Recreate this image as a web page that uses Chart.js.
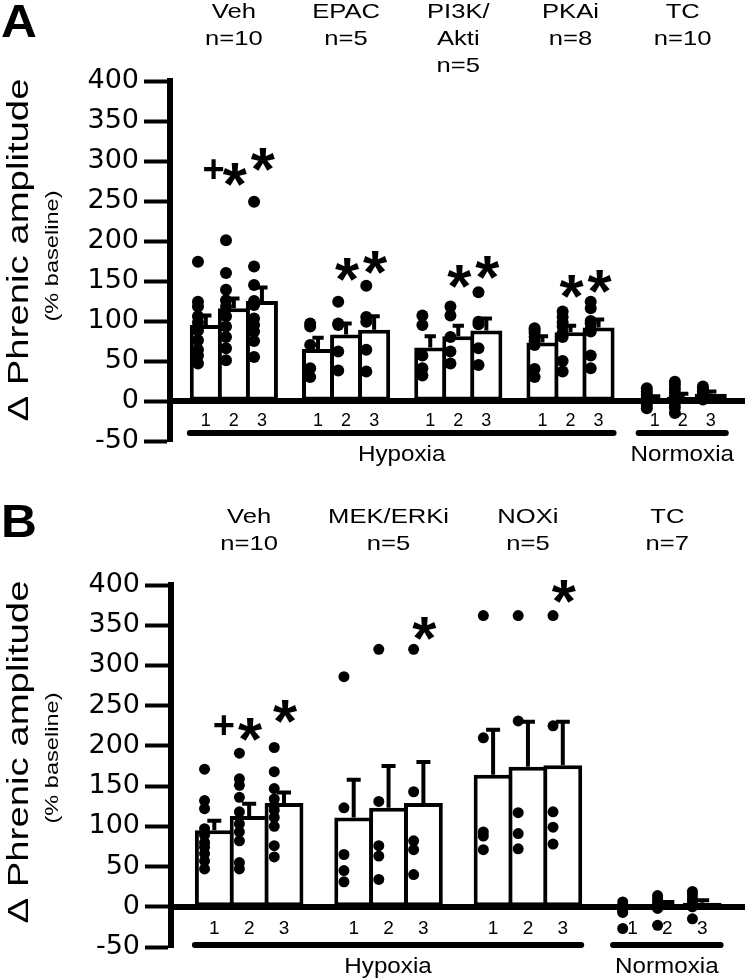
<!DOCTYPE html>
<html lang="en">
<head>
<meta charset="UTF-8">
<title>Phrenic amplitude - hypoxia / normoxia</title>
<script src="https://cdn.jsdelivr.net/npm/chart.js"></script>
<style>
  body { margin: 0; background: #fff; }
  .panel { position: absolute; left: 0; width: 750px; }
  #panelA { top: 0; height: 470px; }
  #panelB { top: 470px; height: 509px; }
</style>
</head>
<body>
<div class="panel" id="panelA"><canvas id="chartA"></canvas></div>
<div class="panel" id="panelB"><canvas id="chartB"></canvas></div>

<script>
// values, % baseline
const timePoints = ['1', '2', '3'];
const conditionNames = ['Hypoxia', 'Normoxia'];

// panel A
const groupsA = [['Veh'], ['EPAC'], ['PI3K/', 'Akti'], ['PKAi'], ['TC']];
const nA = [10, 5, 5, 8, 10];
const conditionGroupsA = [[0, 3], [4, 4]];
const meanA = [[95, 116, 125], [65, 83, 89], [67, 81, 88], [73, 86, 92], [3, 5, 9]];
const semA = [[12, 12, 17], [14, 14, 17], [14, 13, 15], [8, 8, 10], [3, 4, 3]];
const dotsA = [
  [[174, 124, 118, 106, 98, 88, 76, 64, 57, 47], [201, 160, 139, 126, 118, 106, 93, 80, 66, 51], [249, 168, 145, 125, 120, 103, 95, 87, 75, 55]],
  [[97, 93, 70, 41, 30], [124, 97, 95, 62, 38], [144, 105, 99, 64, 37]],
  [[107, 95, 57, 41, 32], [118, 107, 80, 62, 47], [136, 99, 96, 66, 45]],
  [[91, 88, 85, 80, 75, 70, 40, 30], [112, 105, 98, 93, 85, 80, 50, 37], [124, 116, 100, 97, 90, 87, 57, 41]],
  [[16, 12, 8, 5, 3, 1, 0, -2, -5, -9], [24, 20, 15, 10, 6, 3, 0, -3, -8, -15], [18, 15, 12, 10, 9, 8, 7, 5, 3, 2]]
];
const sigA = [['', '+*', '*'], ['', '*', '*'], ['', '*', '*'], ['', '*', '*'], ['', '', '']];
const sigLevelA = [[0, 289, 307], [0, 170, 179], [0, 161, 172], [0, 149, 155], [0, 0, 0]];

// panel B
const groupsB = [['Veh'], ['MEK/ERKi'], ['NOXi'], ['TC']];
const nB = [10, 5, 5, 7];
const conditionGroupsB = [[0, 2], [3, 3]];
const meanB = [[95, 113, 129], [111, 123, 129], [164, 174, 176], [-3, 3, 5]];
const semB = [[12, 15, 13], [47, 52, 51], [56, 56, 54], [3, 3, 3]];
const dotsB = [
  [[171, 132, 122, 97, 89, 80, 74, 66, 57, 47], [191, 159, 151, 136, 118, 103, 93, 82, 55, 47], [198, 168, 147, 134, 126, 120, 111, 100, 76, 62]],
  [[286, 123, 65, 45, 31], [320, 131, 76, 63, 34], [320, 143, 82, 71, 40]],
  [[362, 210, 93, 88, 71], [362, 231, 117, 91, 72], [362, 225, 118, 99, 78]],
  [[6, 2, -1, -3, -5, -7, -27], [14, 10, 6, 3, 1, -2, -23], [19, 15, 10, 6, 3, 0, -15]]
];
const sigB = [['', '+*', '*'], ['', '', '*'], ['', '', '*'], ['', '', '']];
const sigLevelB = [[0, 225, 248], [0, 0, 351], [0, 0, 397], [0, 0, 0]];

const FONT = "'Liberation Sans', Arial, sans-serif";
Chart.defaults.font.family = FONT;
Chart.defaults.color = '#000';

const LINE = 4;   // bar outline / error bar width

// text drawn wider than the stock font, like the figure
function wideText(ctx, str, x, y, opt) {
  ctx.save();
  ctx.translate(x, y);
  if (opt.rotate) ctx.rotate(opt.rotate);
  ctx.font = opt.font;
  let sx = opt.sx || 1;
  if (opt.len) sx = opt.len / ctx.measureText(str).width;
  ctx.scale(sx, 1);
  ctx.textAlign = opt.align || 'center';
  ctx.textBaseline = opt.baseline || 'middle';
  ctx.fillStyle = '#000';
  ctx.fillText(str, 0, 0);
  ctx.restore();
}

function buildPanel(p) {
  const pos = (g, b) => g * 4 + b;
  const bars = [], dots = [];
  p.means.forEach((grp, g) => grp.forEach((m, b) => {
    bars.push({ x: pos(g, b), y: m });
    p.dots[g][b].forEach(v => dots.push({ x: pos(g, b) - 0.28, y: v }));
  }));

  const xMin = -(p.firstBar - p.axisX) / p.slot;
  const xMax = xMin + (747 - p.axisX) / p.slot;

  const decor = {
    id: 'decor',
    afterDatasetDraw(chart, args) {
      if (args.index !== 0) return;
      const { ctx, scales: { x, y } } = chart;
      ctx.save();
      ctx.strokeStyle = '#000';
      ctx.lineWidth = LINE;
      p.means.forEach((grp, g) => grp.forEach((m, b) => {
        const px = x.getPixelForValue(pos(g, b));
        const y0 = y.getPixelForValue(m);
        const y1 = y.getPixelForValue(m + p.sem[g][b]);
        ctx.beginPath();
        ctx.moveTo(px, y0); ctx.lineTo(px, y1);
        ctx.moveTo(px - p.slot * 0.2, y1); ctx.lineTo(px + p.slot * 0.2, y1);
        ctx.stroke();
      }));
      ctx.restore();
    },
    afterDraw(chart) {
      const { ctx, scales: { x, y } } = chart;
      // panel letter
      wideText(ctx, p.letter, 1, p.letterY, { font: 'bold 46px ' + FONT, align: 'left', baseline: 'alphabetic', sx: 1.08 });
      // axis title
      wideText(ctx, '\u0394 Phrenic amplitude', 28, p.titleY, { font: '30px ' + FONT, rotate: -Math.PI / 2, baseline: 'alphabetic', len: 343 });
      wideText(ctx, '(% baseline)', 58, p.titleY + 6, { font: '18px ' + FONT, rotate: -Math.PI / 2, baseline: 'alphabetic', len: 131 });
      // group headers
      p.groups.forEach((lines, g) => {
        const cx = x.getPixelForValue(pos(g, 1));
        lines.concat('n=' + p.n[g]).forEach((t, i) => {
          wideText(ctx, t, cx, p.headerY + i * 27, { font: '21px ' + FONT, sx: 1.22 });
        });
      });
      // significance marks
      p.sig.forEach((grp, g) => grp.forEach((s, b) => {
        if (!s) return;
        const px = x.getPixelForValue(pos(g, b));
        const py = y.getPixelForValue(p.sigLevel[g][b]);
        wideText(ctx, '*', px + 1, py + 0.56 * 62, { font: 'bold 62px ' + FONT, baseline: 'alphabetic' });
        if (s.includes('+')) {
          wideText(ctx, '+', px - p.slot * 0.72, py + 0.33 * 38, { font: 'bold 38px ' + FONT, baseline: 'alphabetic' });
        }
      }));
      // hypoxia / normoxia bars
      ctx.save();
      ctx.strokeStyle = '#000';
      ctx.lineWidth = 6;
      ctx.lineCap = 'round';
      p.conditions.forEach((c, i) => {
        const left = x.getPixelForValue(pos(c[0], 0) - 0.5) - 2;
        const right = x.getPixelForValue(pos(c[1], 2) + 0.5) + 1;
        ctx.beginPath();
        ctx.moveTo(left, p.condY); ctx.lineTo(right, p.condY);
        ctx.stroke();
        wideText(ctx, conditionNames[i], (left + right) / 2, p.condY + 22, { font: '22px ' + FONT, sx: 1.1 });
      });
      ctx.restore();
    }
  };

  return new Chart(document.getElementById(p.canvas), {
    type: 'bar',
    data: {
      datasets: [
        {
          type: 'bar', data: bars, order: 2,
          backgroundColor: '#fff', borderColor: '#000', borderWidth: LINE, borderSkipped: false,
          barPercentage: 1, categoryPercentage: (p.slot + LINE) / p.slot
        },
        {
          type: 'scatter', data: dots, order: 1,
          pointRadius: p.dotR, pointBackgroundColor: '#000', pointBorderWidth: 0
        }
      ]
    },
    options: {
      responsive: true,
      maintainAspectRatio: false,
      animation: false,
      events: [],
      layout: { padding: { left: 0, right: 3, top: p.padTop, bottom: p.padBottom } },
      plugins: { legend: { display: false }, tooltip: { enabled: false } },
      scales: {
        x: {
          type: 'linear', position: { y: 0 }, min: xMin, max: xMax, offset: false,
          grid: { display: false, drawTicks: false },
          border: { display: true, width: 6, color: '#000', z: 1 },
          afterBuildTicks: s => { s.ticks = bars.map(d => ({ value: d.x })); },
          ticks: {
            autoSkip: false, maxRotation: 0, padding: p.tickPad,
            font: { size: p.tickFont }, color: '#000',
            callback: v => timePoints[Math.round(v) % 4]
          }
        },
        y: {
          min: -50, max: 400,
          afterFit: s => { s.width = p.axisX; },
          grid: { drawOnChartArea: false, drawTicks: true, tickLength: 26, tickWidth: 4, color: '#000', tickColor: '#000' },
          border: { display: true, width: 6, color: '#000' },
          ticks: { stepSize: 50, padding: 5, color: '#000', font: { family: "'DejaVu Sans', sans-serif", size: 27 } }
        }
      }
    },
    plugins: [decor]
  });
}

buildPanel({
  canvas: 'chartA', letter: 'A', letterY: 37,
  groups: groupsA, n: nA, means: meanA, sem: semA, dots: dotsA,
  sig: sigA, sigLevel: sigLevelA, conditions: conditionGroupsA,
  axisX: 170, slot: 28.2, firstBar: 206, padTop: 81, padBottom: 29,
  headerY: 12, titleY: 250, condY: 433, tickFont: 18, tickPad: 9, dotR: 6
});

buildPanel({
  canvas: 'chartB', letter: 'B', letterY: 67,
  groups: groupsB, n: nB, means: meanB, sem: semB, dots: dotsB,
  sig: sigB, sigLevel: sigLevelB, conditions: conditionGroupsB,
  axisX: 171, slot: 35, firstBar: 214.5, padTop: 115, padBottom: 32,
  headerY: 47, titleY: 282, condY: 475, tickFont: 19, tickPad: 11, dotR: 5.5
});
</script>
</body>
</html>
